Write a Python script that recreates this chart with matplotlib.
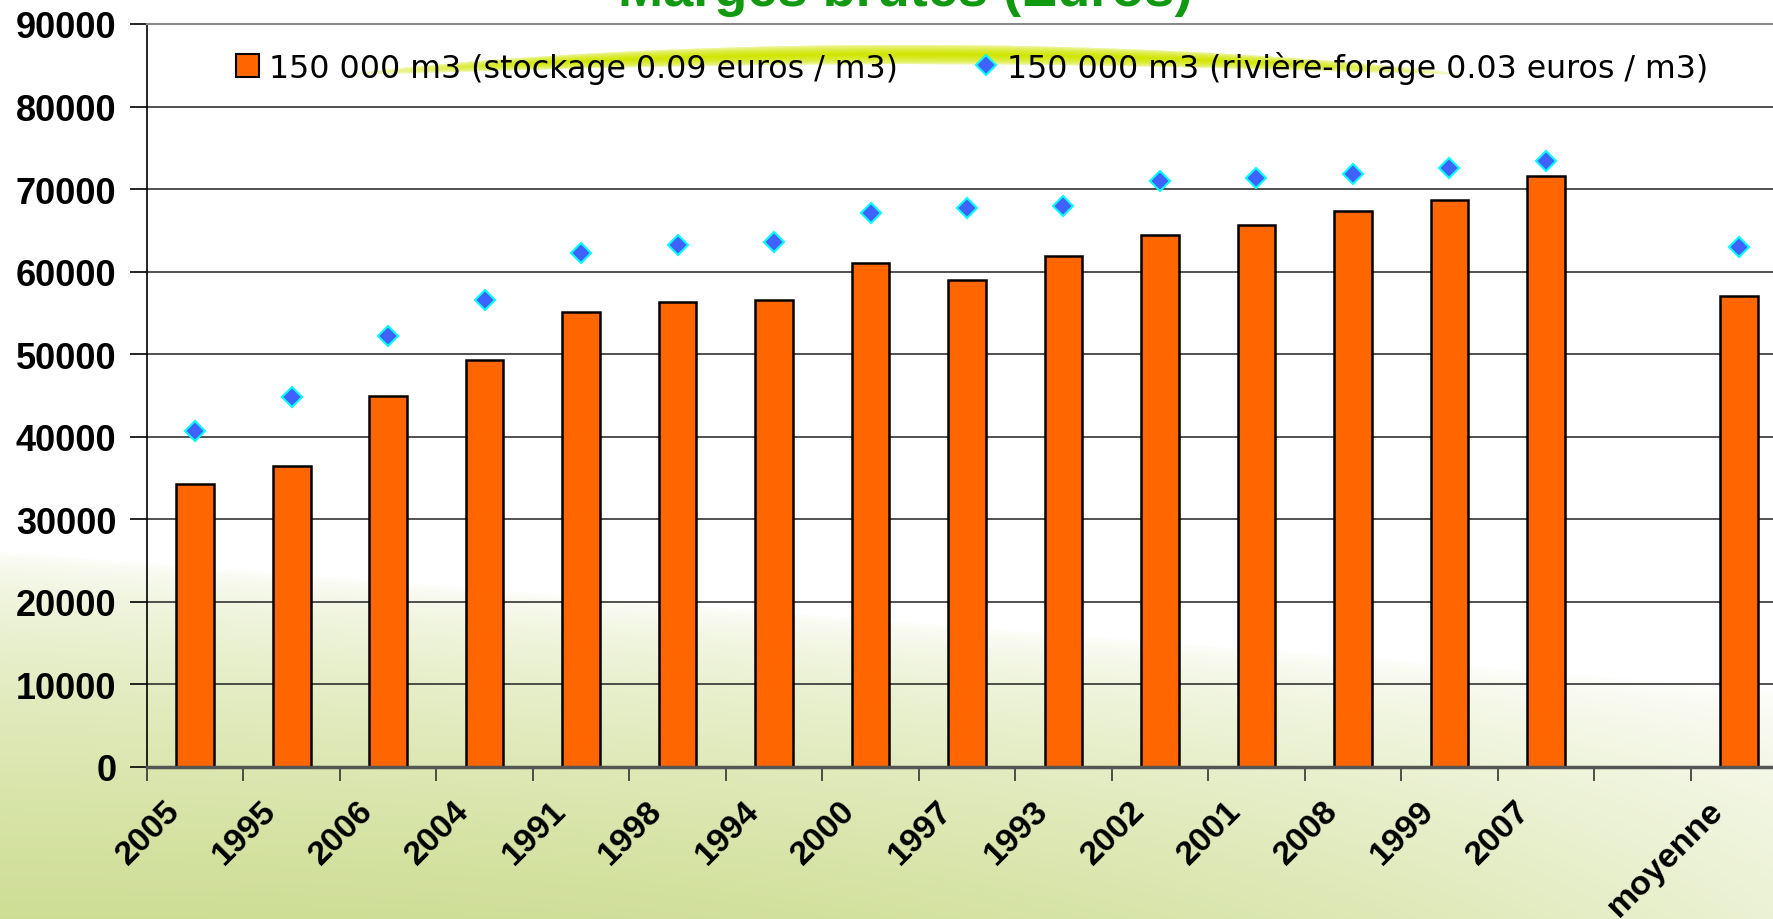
import numpy as np
import matplotlib
matplotlib.use('Agg')
import matplotlib.pyplot as plt
from matplotlib.patches import Patch
from matplotlib.lines import Line2D
from matplotlib.transforms import ScaledTranslation

categories = ['2005', '1995', '2006', '2004', '1991', '1998', '1994', '2000', '1997',
              '1993', '2002', '2001', '2008', '1999', '2007', '', 'moyenne']
stockage = [34300, 36400, 45000, 49300, 55100, 56300, 56600, 61100, 59000,
            61900, 64500, 65600, 67300, 68700, 71600, np.nan, 57000]
riviere = [40700, 44800, 52200, 56600, 62300, 63200, 63600, 67100, 67700,
           67900, 71000, 71400, 71800, 72500, 73400, np.nan, 63000]
yticks = [0, 10000, 20000, 30000, 40000, 50000, 60000, 70000, 80000, 90000]

label_bar = '150 000 m3 (stockage 0.09 euros / m3)'
label_pts = '150 000 m3 (rivière-forage 0.03 euros / m3)'
title = 'Marges brutes (Euros)'

plt.rcParams['font.family'] = ['Liberation Sans', 'DejaVu Sans']

W, H = 1773, 920
fig = plt.figure(figsize=(W / 100, H / 100), dpi=100)

# background: white top fading into pale green at the bottom, plus the yellow swoosh
yy, xx = np.mgrid[0:H, 0:W]
t = yy / H
u = xx / W
t0 = 0.60 + 0.15 * u
f = np.clip((t - t0) / (1 - t0), 0, 1) ** 0.55
f = f * (1 - 0.6 * u ** 2.5)
green = np.array([0.81, 0.87, 0.58])
bg = np.ones((H, W, 3)) * (1 - f[..., None]) + green * f[..., None]
# swoosh: arc near the legend
x0 = 905
s = (xx - x0) / 560.0
curve = 55 + 20 * s ** 2
dist = np.abs(yy - curve)
half = 10 * np.clip(1 - s ** 2, 0, 1) ** 0.7
a = np.clip(1 - dist / (half + 1e-6), 0, 1) ** 0.4 * (half > 0.5)
a = a * np.clip(1.15 - np.abs(s) ** 4, 0, 1)
swoosh = np.array([0.82, 0.90, 0.0])
bg = bg * (1 - a[..., None]) + swoosh * a[..., None]
bga = fig.add_axes([0, 0, 1, 1], zorder=-1)
bga.imshow(bg, aspect='auto', interpolation='bilinear')
bga.axis('off')

ax = fig.add_axes([147 / W, 1 - 768 / H, 1640 / W, 743 / H])
ax.set_facecolor('none')

x = np.arange(len(categories))
ax.bar(x, stockage, width=0.39, color='#FF6600', edgecolor='black', linewidth=1.8, zorder=3)
ax.plot(x, riviere, linestyle='none', marker='D', markersize=10.5,
        markerfacecolor='#3F62FF', markeredgecolor='#00FFFF', markeredgewidth=1.5, zorder=4)

ax.set_xlim(-0.5, len(categories) - 0.5)
ax.set_ylim(0, 90000)
ax.set_yticks(yticks)
ax.set_yticklabels([str(v) for v in yticks], fontsize=26, fontweight='bold')
for v in yticks[1:-1]:
    ax.axhline(v, color='#222222', linewidth=1.1, zorder=1)

ax.set_xticks(x)
ax.set_xticklabels(categories, fontsize=24.5, fontweight='bold', rotation=45,
                   ha='right', va='center', rotation_mode='anchor')
ax.set_xticks(np.arange(-0.5, len(categories)), minor=True)
ax.tick_params(axis='x', which='major', length=0, pad=28)
ax.tick_params(axis='x', which='minor', length=10, width=1.2, color='#333333', direction='out')
ax.tick_params(axis='y', length=12, width=1.2, pad=10, direction='out')
for lab in ax.get_xticklabels():
    lab.set_transform(lab.get_transform() + ScaledTranslation(-0.2, 0, fig.dpi_scale_trans))

ax.spines['right'].set_visible(False)
ax.spines['top'].set_color('#888888')
ax.spines['top'].set_linewidth(1.5)
ax.spines['left'].set_color('black')
ax.spines['left'].set_linewidth(1.2)
ax.spines['bottom'].set_color('#555555')
ax.spines['bottom'].set_linewidth(2.5)
ax.spines['bottom'].set_zorder(5)

handles = [Patch(facecolor='#FF6600', edgecolor='black', linewidth=1.5),
           Line2D([], [], linestyle='none', marker='D', markersize=10.5,
                  markerfacecolor='#3F62FF', markeredgecolor='#00FFFF', markeredgewidth=1.5)]
ax.legend(handles, [label_bar, label_pts], loc='center', bbox_to_anchor=(0.503, 0.942),
          ncol=2, frameon=False, prop={'family': 'DejaVu Sans', 'size': 22.8},
          handlelength=0.75, handleheight=0.75, handletextpad=0.3, columnspacing=2.4)

fig.text(905 / W, 1 - 6 / H, title, ha='center', va='baseline', fontsize=39,
         fontweight='bold', color='#119911')

fig.savefig('out.png', dpi=100)
